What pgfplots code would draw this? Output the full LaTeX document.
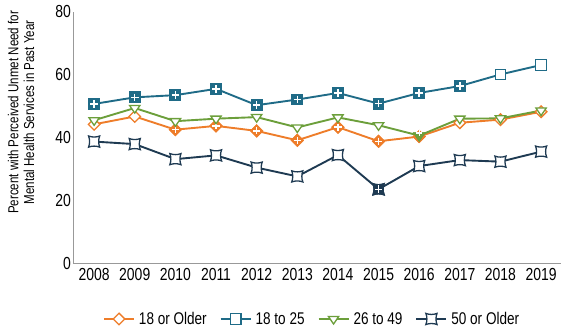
\documentclass[border=0pt]{standalone}
\usepackage{pgfplots}
\pgfplotsset{compat=1.18}
\usepackage{fontspec}
\setmainfont[FakeStretch=0.8]{Liberation Sans}
\definecolor{corange}{HTML}{EE7D2A}
\definecolor{cteal}{HTML}{1F6B87}
\definecolor{cgreen}{HTML}{6C9F3B}
\definecolor{cdark}{HTML}{1E3A52}
\pgfdeclareplotmark{pinch}{%
  \pgfpathmoveto{\pgfpoint{-\pgfplotmarksize}{-\pgfplotmarksize}}%
  \pgfpathcurveto{\pgfpoint{-0.4\pgfplotmarksize}{-0.75\pgfplotmarksize}}{\pgfpoint{0.4\pgfplotmarksize}{-0.75\pgfplotmarksize}}{\pgfpoint{\pgfplotmarksize}{-\pgfplotmarksize}}%
  \pgfpathcurveto{\pgfpoint{0.75\pgfplotmarksize}{-0.4\pgfplotmarksize}}{\pgfpoint{0.75\pgfplotmarksize}{0.4\pgfplotmarksize}}{\pgfpoint{\pgfplotmarksize}{\pgfplotmarksize}}%
  \pgfpathcurveto{\pgfpoint{0.4\pgfplotmarksize}{0.75\pgfplotmarksize}}{\pgfpoint{-0.4\pgfplotmarksize}{0.75\pgfplotmarksize}}{\pgfpoint{-\pgfplotmarksize}{\pgfplotmarksize}}%
  \pgfpathcurveto{\pgfpoint{-0.75\pgfplotmarksize}{0.4\pgfplotmarksize}}{\pgfpoint{-0.75\pgfplotmarksize}{-0.4\pgfplotmarksize}}{\pgfpoint{-\pgfplotmarksize}{-\pgfplotmarksize}}%
  \pgfpathclose
  \pgfusepathqfillstroke}
\begin{document}
\begin{tikzpicture}
\begin{axis}[
  scale only axis, width=488bp, height=251bp,
  xmin=2007.48, xmax=2019.49, ymin=0, ymax=80,
  axis x line*=bottom, axis y line*=left,
  axis line style={draw=gray!80, line width=1pt, -},
  xtick={2008,...,2019}, ytick={0,20,...,80},
  major tick length=0pt,
  xticklabel style={font=\fontsize{17.5}{18}\selectfont, /pgf/number format/1000 sep={}, inner sep=1.5bp, yshift=-4bp},
  yticklabel style={font=\fontsize{17.5}{18}\selectfont, inner sep=2bp},
  /pgf/number format/assume math mode=true,
  ylabel={Percent with Perceived Unmet Need for\\Mental Health Services in Past Year},
  ylabel style={at={(axis description cs:-0.072,0.6)}, anchor=south, align=center, font=\fontsize{14.5}{16}\selectfont},
  legend columns=4,
  legend style={draw=none, at={(0.489,-0.223)}, anchor=center, font=\fontsize{17}{18}\selectfont,
    nodes={inner sep=1bp},
    /tikz/every odd column/.append style={column sep=3bp},
    /tikz/every even column/.append style={column sep=12bp}},
  legend image code/.code={
    \draw[#1, mark repeat=2, mark phase=2] plot coordinates {(0bp,0bp) (15bp,0bp) (30bp,0bp)};},
  every axis plot/.append style={line width=1.9pt},
]
% 18 or Older
\addplot[corange, mark=square*, mark size=4.1pt, mark options={fill=white, line width=1.3pt, rotate=45}] coordinates {
 (2008,44.2) (2009,46.7) (2010,42.5) (2011,43.7) (2012,42.1) (2013,39.1) (2014,43.3) (2015,38.8) (2016,40.3) (2017,44.7) (2018,45.7) (2019,48.2)};
\addlegendentry{18 or Older}
\addplot[forget plot, only marks, corange, mark=square*, mark size=4.1pt, mark options={fill=corange, line width=1.3pt, rotate=45}] coordinates {
 (2010,42.5) (2011,43.7) (2012,42.1) (2013,39.1) (2014,43.3) (2015,38.8) (2016,40.3)};
\addplot[forget plot, only marks, white, mark=+, mark size=3.6pt, mark options={line width=1.4pt}] coordinates {
 (2010,42.5) (2011,43.7) (2012,42.1) (2013,39.1) (2014,43.3) (2015,38.8) (2016,40.3)};
% 18 to 25
\addplot[cteal, mark=square*, mark size=5.3pt, mark options={fill=white, line width=1.3pt}] coordinates {
 (2008,50.7) (2009,52.8) (2010,53.5) (2011,55.5) (2012,50.3) (2013,52.1) (2014,54.2) (2015,50.8) (2016,54.2) (2017,56.4) (2018,60.1) (2019,63.1)};
\addlegendentry{18 to 25}
\addplot[forget plot, only marks, cteal, mark=square*, mark size=5.3pt, mark options={fill=cteal, line width=1.3pt}] coordinates {
 (2008,50.7) (2009,52.8) (2010,53.5) (2011,55.5) (2012,50.3) (2013,52.1) (2014,54.2) (2015,50.8) (2016,54.2) (2017,56.4)};
\addplot[forget plot, only marks, white, mark=+, mark size=3.8pt, mark options={line width=1.4pt}] coordinates {
 (2008,50.7) (2009,52.8) (2010,53.5) (2011,55.5) (2012,50.3) (2013,52.1) (2014,54.2) (2015,50.8) (2016,54.2) (2017,56.4)};
% 26 to 49
\addplot[cgreen, mark=triangle*, mark size=6pt, mark options={fill=white, line width=1.3pt, rotate=180, yscale=0.85}] coordinates {
 (2008,45.5) (2009,49.4) (2010,45.2) (2011,46.0) (2012,46.5) (2013,43.2) (2014,46.4) (2015,43.9) (2016,40.6) (2017,46.0) (2018,46.1) (2019,48.6)};
\addlegendentry{26 to 49}
\addplot[forget plot, only marks, cgreen, mark=triangle*, mark size=6pt, mark options={fill=cgreen, line width=1.3pt, rotate=180, yscale=0.85}] coordinates {
 (2016,40.6)};
\addplot[forget plot, only marks, white, mark=+, mark size=2.8pt, mark options={line width=1.3pt}] coordinates {
 (2016,41.4)};
% 50 or Older
\addplot[cdark, mark=pinch, mark size=5.6pt, mark options={fill=white, line width=1.3pt}] coordinates {
 (2008,38.7) (2009,37.9) (2010,33.1) (2011,34.3) (2012,30.4) (2013,27.6) (2014,34.4) (2015,23.5) (2016,30.9) (2017,32.8) (2018,32.3) (2019,35.5)};
\addlegendentry{50 or Older}
\addplot[forget plot, only marks, cdark, mark=pinch, mark size=5.6pt, mark options={fill=cdark, line width=1.3pt}] coordinates {
 (2015,23.5)};
\addplot[forget plot, only marks, white, mark=+, mark size=3.8pt, mark options={line width=1.4pt}] coordinates {
 (2015,23.5)};
\end{axis}
\pgfresetboundingbox
\path (current axis.south west)++(-73bp,-71bp) coordinate (bbA);
\path (current axis.north east)++(8bp,12bp) coordinate (bbB);
\path[use as bounding box] (bbA) rectangle (bbB);
\end{tikzpicture}
\end{document}
